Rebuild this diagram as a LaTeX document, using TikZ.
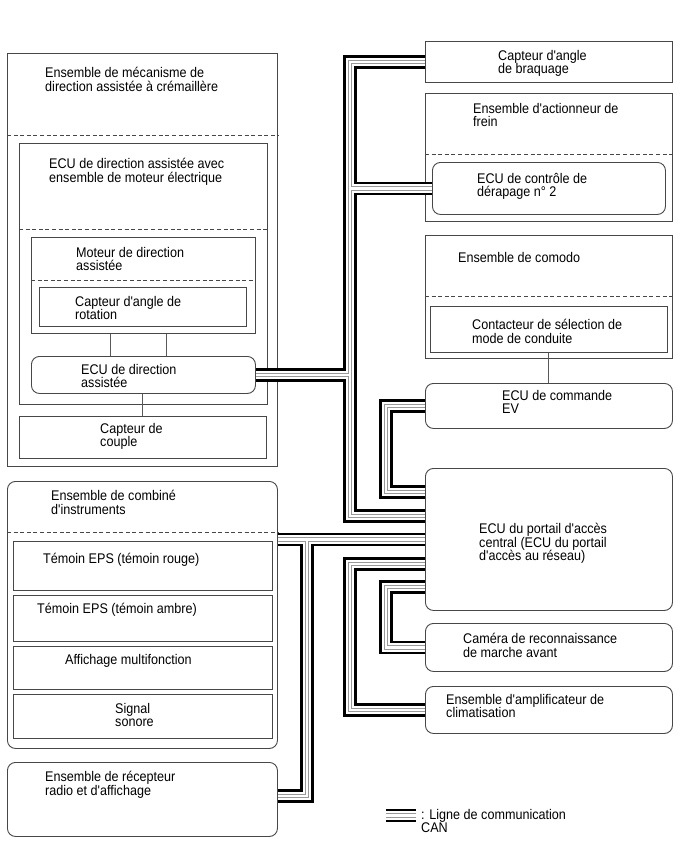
\documentclass[tikz,border=0pt]{standalone}
\usepackage{fontspec}
\newfontfamily\fs[FakeStretch=0.9]{Liberation Sans}
\usetikzlibrary{calc}
\begin{document}
\begin{tikzpicture}[x=1pt,y=-1pt,
  box/.style={draw=black!72,line width=0.9pt,fill=white,inner sep=0pt,anchor=north west},
  rbox/.style={box,rounded corners=8pt},
  dv/.style={draw=black!72,line width=0.9pt,dash pattern=on 4pt off 2.6pt},
  lnk/.style={draw=black!65,line width=0.9pt},
  txt/.style={anchor=north west,inner sep=0pt,align=left,text=black,font=\fs\fontsize{14}{13.5}\selectfont}]
\useasboundingbox[fill=white] (0,0) rectangle (688,852);

% left upper group
\node[box,minimum width=270pt,minimum height=413pt] (mech) at (7,53) {};
\node[box,minimum width=248pt,minimum height=261pt] (ecub) at (19,143) {};
\node[box,minimum width=224pt,minimum height=96pt] (mot) at (31,237) {};
\node[box,minimum width=207pt,minimum height=39pt] (rot) at (39,287) {};
\node[rbox,minimum width=224pt,minimum height=37pt] (ecud) at (31,356) {};
\node[box,minimum width=247pt,minimum height=42pt] (cpl) at (19,416) {};
\draw[dv] ($(mech.north west)+(0,82)$) -- ($(mech.north east)+(0,82)$);
\draw[dv] ($(ecub.north west)+(0,86)$) -- ($(ecub.north east)+(0,86)$);
\draw[dv] ($(mot.north west)+(0,43)$) -- ($(mot.north east)+(0,43)$);

% right column
\node[box,minimum width=247pt,minimum height=41pt] (brk) at (425,41) {};
\node[box,minimum width=247pt,minimum height=128pt] (act) at (425,93) {};
\node[rbox,minimum width=233pt,minimum height=52pt] (der) at (432,162) {};
\node[box,minimum width=247pt,minimum height=123pt] (com) at (425,235) {};
\node[box,minimum width=237pt,minimum height=46pt] (sel) at (430,306) {};
\node[rbox,minimum width=247pt,minimum height=45pt] (ev) at (425,383) {};
\node[rbox,minimum width=247pt,minimum height=142pt] (gw) at (425,468) {};
\node[rbox,minimum width=247pt,minimum height=48pt] (cam) at (425,623) {};
\node[rbox,minimum width=247pt,minimum height=47pt] (clim) at (425,686) {};
\draw[dv] ($(act.north west)+(0,61)$) -- ($(act.north east)+(0,61)$);
\draw[dv] ($(com.north west)+(0,61)$) -- ($(com.north east)+(0,61)$);

% left lower group
\node[rbox,minimum width=270pt,minimum height=267pt] (comb) at (7,481) {};
\node[box,minimum width=259pt,minimum height=49pt] (red) at (13,541) {};
\node[box,minimum width=259pt,minimum height=46pt] (amb) at (13,595) {};
\node[box,minimum width=259pt,minimum height=43pt] (aff) at (13,646) {};
\node[box,minimum width=259pt,minimum height=44pt] (son) at (13,694) {};
\node[rbox,minimum width=270pt,minimum height=74pt] (radio) at (7,762) {};
\draw[dv] ($(comb.north west)+(0,51)$) -- ($(comb.north east)+(0,51)$);

% thin links
\coordinate (xa) at (110,0);
\coordinate (xb) at (166,0);
\coordinate (xc) at (142,0);
\coordinate (xd) at (548,0);
\draw[lnk] (mot.south -| xa) -- (ecud.north -| xa);
\draw[lnk] (mot.south -| xb) -- (ecud.north -| xb);
\draw[lnk] (ecud.south -| xc) -- (cpl.north -| xc);
\draw[lnk] (sel.south -| xd) -- (ev.north -| xd);

% texts
\node[txt] (t1) at (45,67) {Ensemble de mécanisme de\\direction assistée à crémaillère};
\node[txt] (t2) at (49,158) {ECU de direction assistée avec\\ensemble de moteur électrique};
\node[txt] (t3) at (76,247) {Moteur de direction\\assistée};
\node[txt] (t4) at (75,296) {Capteur d'angle de\\rotation};
\node[txt] (t5) at (81,364) {ECU de direction\\assistée};
\node[txt] (t6) at (100,423) {Capteur de\\couple};
\node[txt] (t7) at (498,50) {Capteur d'angle\\de braquage};
\node[txt] (t8) at (473,103) {Ensemble d'actionneur de\\frein};
\node[txt] (t9) at (477,173) {ECU de contrôle de\\dérapage n° 2};
\node[txt] (t10) at (458,252) {Ensemble de comodo};
\node[txt] (t11) at (472,319) {Contacteur de sélection de\\mode de conduite};
\node[txt] (t12) at (502,390) {ECU de commande\\EV};
\node[txt] (t13) at (479,523) {ECU du portail d'accès\\central (ECU du portail\\d'accès au réseau)};
\node[txt] (t14) at (463,633) {Caméra de reconnaissance\\de marche avant};
\node[txt] (t15) at (446,694) {Ensemble d'amplificateur de\\climatisation};
\node[txt] (t16) at (51,490) {Ensemble de combiné\\d'instruments};
\node[txt] (t17) at (43,553) {Témoin EPS (témoin rouge)};
\node[txt] (t18) at (37,603) {Témoin EPS (témoin ambre)};
\node[txt] (t19) at (65,654) {Affichage multifonction};
\node[txt] (t20) at (115,703) {Signal\\sonore};
\node[txt] (t21) at (45,771) {Ensemble de récepteur\\radio et d'affichage};
\node[txt] (t22) at (421,809) {: Ligne de communication\\CAN};

% CAN buses
\coordinate (tA) at (350,516);
\coordinate (tB) at (386,492);
\coordinate (tC) at (307,796);
\coordinate (tD) at (350,564);
\coordinate (tE) at (386,587);
\coordinate (lgA) at (386,815.5);
\coordinate (lgB) at (416,815.5);
\def\canpaths{
  (brk.west) -| (tA) -- (gw.west |- tA)
  (der.west) -- (der.west -| tA)
  (ecud.east) -- (ecud.east -| tA)
  (ev.west) -| (tB) -- (gw.west |- tB)
  (gw.west) -- (gw.west -| comb.east)
  (tC |- gw.west) -- (tC) -- (tC -| radio.east)
  (gw.west |- tD) -- (tD) |- (clim.west)
  (gw.west |- tE) -- (tE) |- (cam.west)
  (lgA) -- (lgB)
}
\foreach \w/\c in {13.6/black, 8.2/white, 4.2/black!40, 2.3/white}{
  \draw[line width=\w pt, draw=\c, line join=miter] \canpaths;
}
\end{tikzpicture}
\end{document}
